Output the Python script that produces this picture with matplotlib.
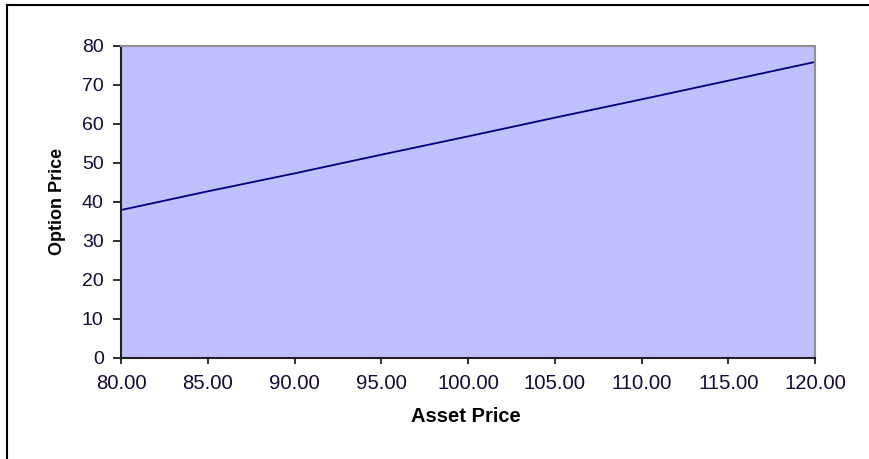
import matplotlib
matplotlib.use("Agg")
import matplotlib.pyplot as plt
from matplotlib.lines import Line2D

# Option price as a function of the underlying asset price
asset_price = [80, 85, 90, 95, 100, 105, 110, 115, 120]
option_price = [37.9, 42.7, 47.3, 52.1, 56.8, 61.6, 66.3, 71.1, 75.9]

x_ticks = [80, 85, 90, 95, 100, 105, 110, 115, 120]
y_ticks = [0, 10, 20, 30, 40, 50, 60, 70, 80]

W, H = 870, 459
fig = plt.figure(figsize=(W / 100, H / 100), dpi=100)
fig.patch.set_facecolor("white")

# chart-area frame (left and top edges)
fig.add_artist(Line2D([7 / W, 7 / W], [0, 1 - 5 / H], transform=fig.transFigure,
                      color="black", lw=1.5))
fig.add_artist(Line2D([7 / W, 1], [1 - 5 / H, 1 - 5 / H], transform=fig.transFigure,
                      color="black", lw=1.5))

left, right = 121 / W, 815 / W
bottom, top = 1 - 357.7 / H, 1 - 46 / H
ax = fig.add_axes([left, bottom, right - left, top - bottom])
ax.set_facecolor("#C0C0FF")

ax.plot(asset_price, option_price, color="#000080", lw=1.3)

ax.set_xlim(80, 120)
ax.set_ylim(0, 80)
ax.set_xticks(x_ticks)
ax.set_xticklabels([f"{v:.2f}" for v in x_ticks])
ax.set_yticks(y_ticks)

tick_color = "#160838"
ax.tick_params(axis="both", direction="out", width=1.3, color="#202020",
               labelcolor=tick_color)
ax.tick_params(axis="x", length=4.5, pad=7.5, labelsize=14.6)
ax.tick_params(axis="y", length=6, pad=6.5, labelsize=14)
for lab in ax.get_xticklabels() + ax.get_yticklabels():
    lab.set_family(["Liberation Sans", "DejaVu Sans"])

for side in ("left", "bottom"):
    ax.spines[side].set_color("#202020")
    ax.spines[side].set_linewidth(1.5)
for side in ("top", "right"):
    ax.spines[side].set_color("#909090")
    ax.spines[side].set_linewidth(1.5)

label_font = ["Liberation Sans Narrow", "Liberation Sans", "DejaVu Sans"]
fig.text(466 / W, 1 - 416 / H, "Asset Price", ha="center", va="center",
         fontsize=14.5, fontweight="bold", family=["Liberation Sans", "DejaVu Sans"])
fig.text(57 / W, 1 - 201 / H, "Option Price", ha="center", va="center",
         rotation=90, fontsize=13, fontweight="bold", family=label_font)

fig.savefig("out.png", dpi=100)
